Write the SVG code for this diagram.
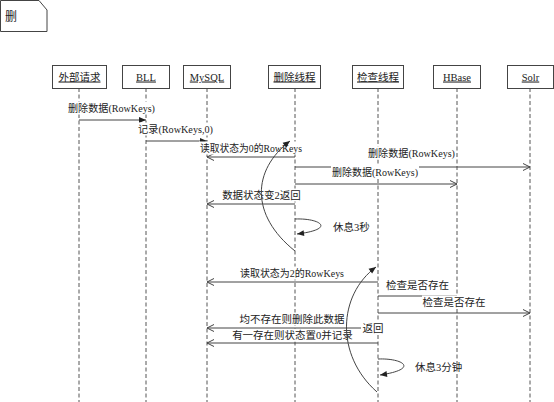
<svg xmlns="http://www.w3.org/2000/svg" width="554" height="402" viewBox="0 0 554 402">
<style>
.box{fill:#fff;stroke:#444;stroke-width:1}
.life{stroke:#555;stroke-width:1;stroke-dasharray:4,2.5;fill:none}
.msg{stroke:#444;stroke-width:1;fill:none}
.t{font-family:"Liberation Serif","Noto Sans CJK SC",serif;font-size:10.5px;fill:#222}
.m{text-anchor:middle}
.bg{fill:#fff}
</style>
<defs>
<marker id="fa" markerUnits="userSpaceOnUse" markerWidth="8" markerHeight="7" refX="7" refY="3" orient="auto" overflow="visible"><path d="M0,0 L7,3 L0,6 z" fill="#222"/></marker>
<marker id="oa" markerUnits="userSpaceOnUse" markerWidth="8" markerHeight="8" refX="7" refY="3.5" orient="auto" overflow="visible"><path d="M0,0 L7,3.5 L0,7" fill="none" stroke="#444" stroke-width="1"/></marker>
</defs>
<rect width="554" height="402" fill="#fff"/>
<g id="note">
<path d="M0.5,0.5 L39,0.5 L47,10 L47,31.5 L0.5,31.5 z" fill="#fff" stroke="#444"/>
<text class="t" x="5" y="21" style="font-size:12px">删</text>
</g>
<g id="n-ext"><line class="life" x1="79" y1="88" x2="79" y2="402"/><rect class="box" x="52.5" y="65.5" width="54" height="23"/><text class="t m" x="79.5" y="80.5" text-decoration="underline">外部请求</text></g>
<g id="n-bll"><line class="life" x1="146" y1="88" x2="146" y2="402"/><rect class="box" x="122.5" y="65.5" width="47" height="23"/><text class="t m" x="146" y="80.5" text-decoration="underline">BLL</text></g>
<g id="n-mysql"><line class="life" x1="207" y1="88" x2="207" y2="402"/><rect class="box" x="183.5" y="65.5" width="47" height="23"/><text class="t m" x="207" y="80.5" text-decoration="underline">MySQL</text></g>
<g id="n-del"><line class="life" x1="295" y1="88" x2="295" y2="402"/><rect class="box" x="268.5" y="65.5" width="52" height="23"/><text class="t m" x="294.5" y="80.5" text-decoration="underline">删除线程</text></g>
<g id="n-chk"><line class="life" x1="378" y1="88" x2="378" y2="402"/><rect class="box" x="352.5" y="65.5" width="51" height="23"/><text class="t m" x="378" y="80.5" text-decoration="underline">检查线程</text></g>
<g id="n-hbase"><line class="life" x1="457" y1="88" x2="457" y2="402"/><rect class="box" x="433.5" y="65.5" width="47" height="23"/><text class="t m" x="457" y="80.5" text-decoration="underline">HBase</text></g>
<g id="n-solr"><line class="life" x1="530" y1="88" x2="530" y2="402"/><rect class="box" x="507.5" y="65.5" width="46" height="23"/><text class="t m" x="530.5" y="80.5" text-decoration="underline">Solr</text></g>
<g id="connectors">
<line class="msg" x1="79" y1="120" x2="146" y2="120" marker-end="url(#fa)"/>
<line class="msg" x1="146" y1="141" x2="207" y2="141" marker-end="url(#fa)"/>
<line class="msg" x1="295" y1="157" x2="207" y2="157" marker-end="url(#oa)"/>
<line class="msg" x1="295" y1="167" x2="530" y2="167" marker-end="url(#oa)"/>
<line class="msg" x1="295" y1="184" x2="457" y2="184" marker-end="url(#oa)"/>
<line class="msg" x1="295" y1="204" x2="207" y2="204" marker-end="url(#oa)"/>
<line class="msg" x1="378" y1="282" x2="207" y2="282" marker-end="url(#oa)"/>
<line class="msg" x1="378" y1="296" x2="457" y2="296"/>
<line class="msg" x1="378" y1="313" x2="530" y2="313" marker-end="url(#oa)"/>
<line class="msg" x1="378" y1="328" x2="207" y2="328" marker-end="url(#oa)"/>
<line class="msg" x1="378" y1="343" x2="207" y2="343" marker-end="url(#oa)"/>
<g id="labels">
<rect class="bg" x="67" y="101.5" width="89" height="13"/><text class="t m" x="111.5" y="112" textLength="87" lengthAdjust="spacingAndGlyphs">删除数据(RowKeys)</text>
<rect class="bg" x="137" y="122.5" width="77" height="13"/><text class="t m" x="175.5" y="133" textLength="75" lengthAdjust="spacingAndGlyphs">记录(RowKeys,0)</text>
<rect class="bg" x="199" y="141.5" width="104" height="13"/><text class="t m" x="251" y="152" textLength="102" lengthAdjust="spacingAndGlyphs">读取状态为0的RowKeys</text>
<rect class="bg" x="367" y="146.5" width="89" height="13"/><text class="t m" x="411.5" y="157" textLength="87" lengthAdjust="spacingAndGlyphs">删除数据(RowKeys)</text>
<rect class="bg" x="331" y="165.5" width="88" height="13"/><text class="t m" x="375" y="176" textLength="86" lengthAdjust="spacingAndGlyphs">删除数据(RowKeys)</text>
<rect class="bg" x="222" y="188.5" width="79" height="13"/><text class="t m" x="261.5" y="199">数据状态变2返回</text>
<text class="t" x="333" y="231">休息3秒</text>
<rect class="bg" x="239" y="266.5" width="106" height="13"/><text class="t m" x="292" y="277" textLength="104" lengthAdjust="spacingAndGlyphs">读取状态为2的RowKeys</text>
<rect class="bg" x="386" y="278.5" width="63" height="13"/><text class="t m" x="417.5" y="289">检查是否存在</text>
<rect class="bg" x="422" y="295.5" width="64" height="13"/><text class="t m" x="454" y="306">检查是否存在</text>
<rect class="bg" x="239" y="312.5" width="106" height="13"/><text class="t m" x="292" y="323">均不存在则删除此数据</text>
<rect class="bg" x="361" y="321.5" width="24" height="13"/><text class="t m" x="373" y="332">返回</text>
<rect class="bg" x="232" y="329" width="121" height="12.5"/><text class="t m" x="292.5" y="339">有一存在则状态置0并记录</text>
<text class="t" x="415" y="371">休息3分钟</text>
</g>
<path class="msg" d="M295,219 C320,218 337,229 297,234" marker-end="url(#fa)"/>
<path class="msg" d="M378,359 C403,358 420,369 380,375" marker-end="url(#fa)"/>
<path class="msg" d="M295,251 C250,215 252,170 290,141" marker-end="url(#fa)"/>
<path class="msg" d="M377,392 C335,355 338,295 376,267" marker-end="url(#fa)"/>
</g>
</svg>
